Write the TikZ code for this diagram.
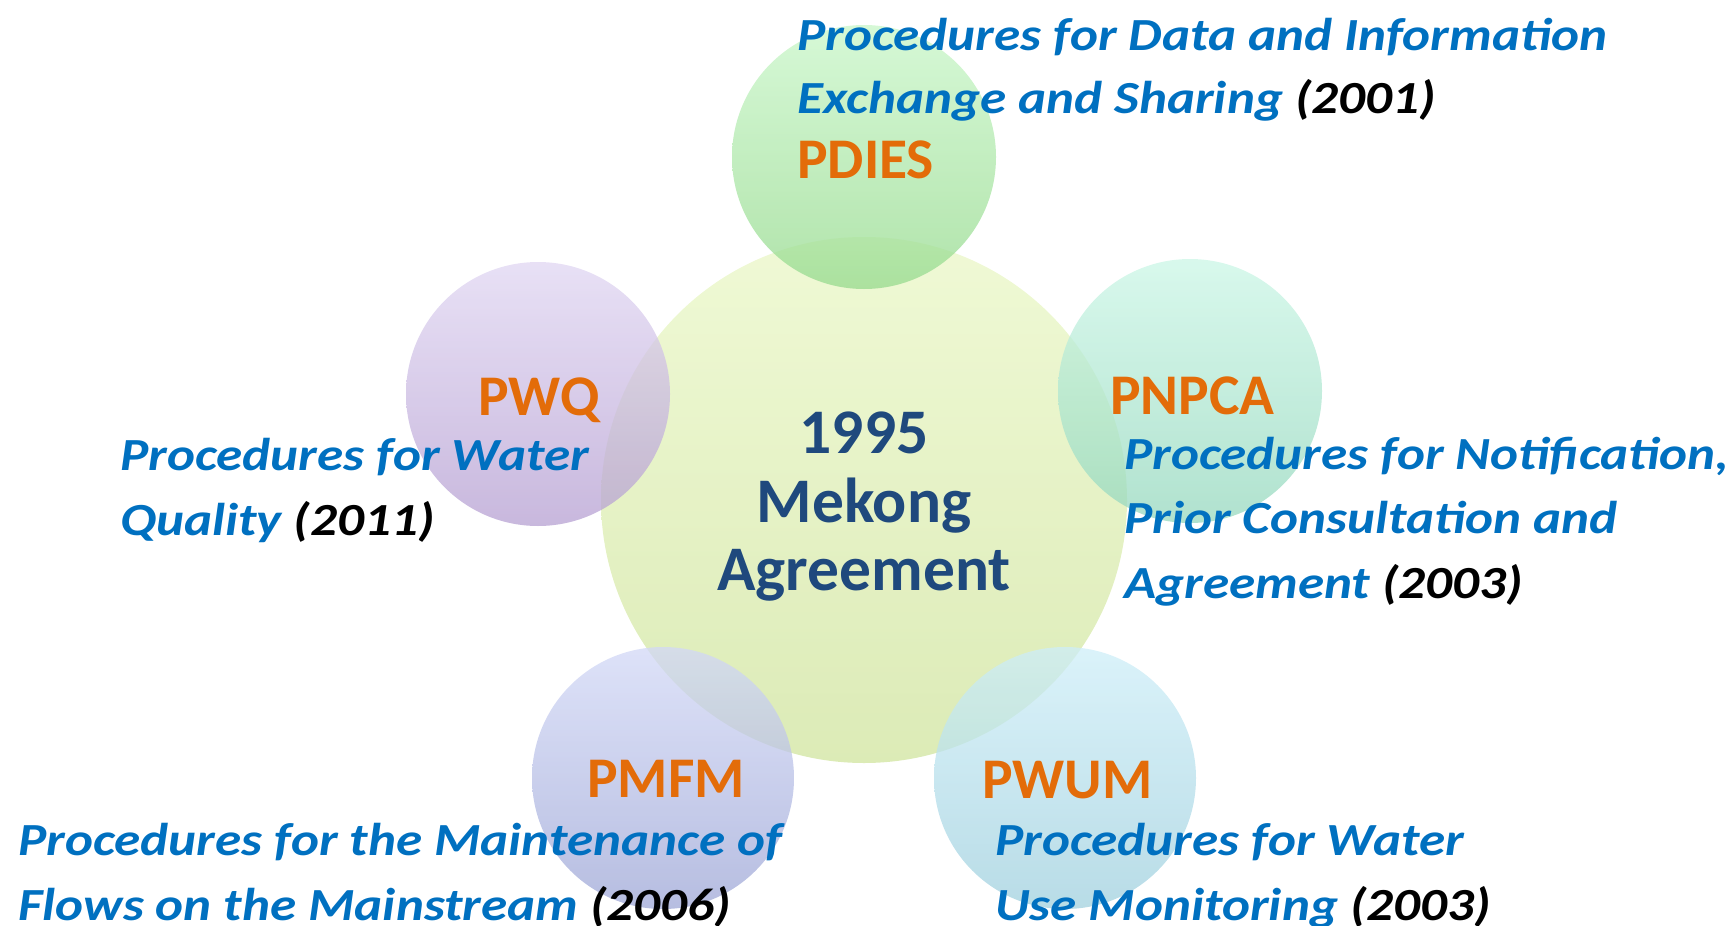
\documentclass[tikz,border=0pt]{standalone}
\usepackage{fontspec}
\setmainfont{Carlito}
\newfontfamily\descfont{Carlito}[FakeStretch=1.155]
\definecolor{cblue}{HTML}{0070C0}
\definecolor{corange}{HTML}{E36C09}
\definecolor{cnavy}{HTML}{1F497D}
\definecolor{bigtop}{HTML}{EAF7C7}
\definecolor{bigbot}{HTML}{D0E49E}
\definecolor{grtop}{HTML}{C8F6C8}
\definecolor{grbot}{HTML}{96DA8E}
\definecolor{vitop}{HTML}{E0D6F2}
\definecolor{vibot}{HTML}{B6A0D2}
\definecolor{mitop}{HTML}{CBF6E6}
\definecolor{mibot}{HTML}{96D8BE}
\definecolor{pbtop}{HTML}{D2D8F6}
\definecolor{pbbot}{HTML}{9EA7D6}
\definecolor{sktop}{HTML}{CEEEF8}
\definecolor{skbot}{HTML}{A0D0DE}
\newcommand\yr[1]{{\color{black}#1}}
\tikzset{
  circ/.style={circle, inner sep=0pt, minimum size=#1, fill opacity=0.75, draw=none},
  abbr/.style={anchor=base west, inner sep=0pt, text=corange, font=\fontsize{57.5}{60}\selectfont\bfseries},
  desc/.style={anchor=base west, inner sep=0pt, text=cblue, font=\descfont\fontsize{46}{50}\selectfont\bfseries\itshape},
  ttl/.style={anchor=base, inner sep=0pt, text=cnavy, font=\fontsize{63.5}{66}\selectfont\bfseries},
}
\begin{document}
\begin{tikzpicture}[x=1pt,y=-1pt]
\useasboundingbox (0,0) rectangle (1733,926);
% circles
\node[circ=526pt, top color=bigtop, bottom color=bigbot] (mekong) at (864,500) {};
\node[circ=264pt, top color=grtop, bottom color=grbot] (cpdies) at (864,157) {};
\node[circ=264pt, top color=vitop, bottom color=vibot] (cpwq) at (538,394) {};
\node[circ=264pt, top color=mitop, bottom color=mibot] (cpnpca) at (1190,391) {};
\node[circ=262pt, top color=pbtop, bottom color=pbbot] (cpmfm) at (663,778) {};
\node[circ=262pt, top color=sktop, bottom color=skbot] (cpwum) at (1065,778) {};
% title
\node[ttl] (t1) at (864,453) {1995};
\node[ttl] (t2) at (864,522) {Mekong};
\node[ttl] (t3) at (864,590) {Agreement};
% abbreviations
\node[abbr] (pdies) at (797,178) {PDIES};
\node[abbr] (pwq) at (478,415) {PWQ};
\node[abbr] (pnpca) at (1110,414) {PNPCA};
\node[abbr] (pmfm) at (587,797) {PMFM};
\node[abbr] (pwum) at (982,798) {PWUM};
% descriptions
\node[desc] (d1a) at (797,50) {Procedures for Data and Information};
\node[desc] (d1b) at (797,113) {Exchange and Sharing \yr{(2001)}};
\node[desc] (d2a) at (120,470) {Procedures for Water};
\node[desc] (d2b) at (120,535) {Quality \yr{(2011)}};
\node[desc] (d3a) at (1124,469) {Procedures for Notification,};
\node[desc] (d3b) at (1124,533) {Prior Consultation and};
\node[desc] (d3c) at (1124,598) {Agreement \yr{(2003)}};
\node[desc] (d4a) at (18,855) {Procedures for the Maintenance of};
\node[desc] (d4b) at (18,920) {Flows on the Mainstream \yr{(2006)}};
\node[desc] (d5a) at (995,855) {Procedures for Water};
\node[desc] (d5b) at (995,920) {Use Monitoring \yr{(2003)}};
\end{tikzpicture}
\end{document}
